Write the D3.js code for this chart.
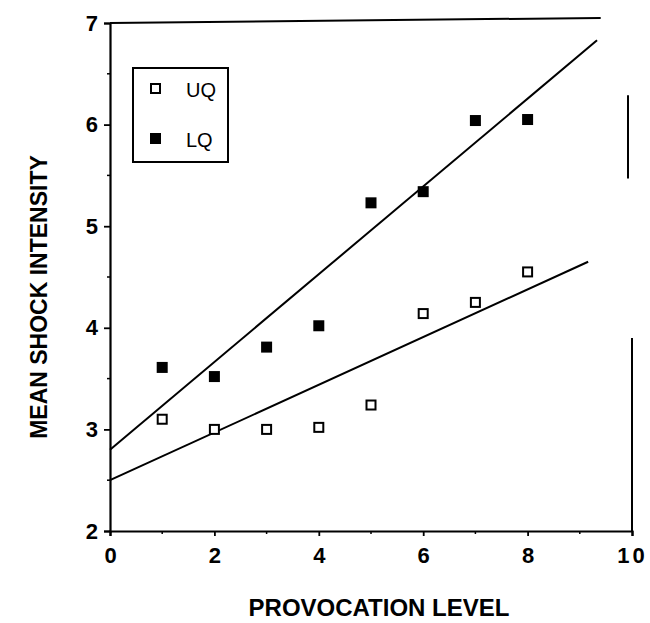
<!DOCTYPE html>
<html>
<head>
<meta charset="utf-8">
<script src="https://cdn.jsdelivr.net/npm/d3@7"></script>
<style>
  body { margin: 0; background: #fff; }
  text { font-family: "Liberation Sans", Arial, sans-serif; fill: #000; }
</style>
</head>
<body>
<script>
// provocation levels 1..8
var levels = [1, 2, 3, 4, 5, 6, 7, 8];
// mean shock intensity
var uqValues = [3.1, 3.0, 3.0, 3.02, 3.24, 4.14, 4.25, 4.55];
var lqValues = [3.61, 3.52, 3.81, 4.02, 5.23, 5.34, 6.04, 6.05];
// fitted lines, end points as drawn
var uqFit = [[0, 2.5], [9.16, 4.65]];
var lqFit = [[0, 2.8], [9.33, 6.83]];
var xTicks = [0, 2, 4, 6, 8, 10];
var yTicks = [2, 3, 4, 5, 6, 7];

var w = 650, h = 623;

var svg = d3.select("body").append("svg")
    .attr("width", w)
    .attr("height", h);

var x = d3.scaleLinear().domain([0, 10]).range([110, 632]);
var y = d3.scaleLinear().domain([2, 7]).range([531, 23]);

// bottom axis
var xAxis = d3.axisBottom(x)
    .tickValues(xTicks)
    .tickSize(5)
    .tickPadding(11)
    .tickFormat(d3.format("d"));
var gx = svg.append("g")
    .attr("transform", "translate(0," + y(2) + ")")
    .call(xAxis);
gx.select(".domain").attr("stroke-width", 2.2);
gx.selectAll(".tick line").attr("stroke-width", 1.8);
gx.selectAll(".tick text")
    .style("font-size", "22px")
    .style("font-weight", "bold")
    .attr("letter-spacing", function(d) { return d == 10 ? "3px" : null; });

// minor x ticks
svg.append("g").selectAll("line")
    .data(d3.range(1, 10, 2))
    .enter().append("line")
    .attr("x1", function(d) { return x(d); })
    .attr("x2", function(d) { return x(d); })
    .attr("y1", y(2))
    .attr("y2", y(2) + 3)
    .attr("stroke", "#000")
    .attr("stroke-width", 1.5);

// left axis
var yAxis = d3.axisLeft(y)
    .tickValues(yTicks)
    .tickSize(6)
    .tickPadding(6)
    .tickFormat(d3.format("d"));
var gy = svg.append("g")
    .attr("transform", "translate(" + x(0) + ",0)")
    .call(yAxis);
gy.select(".domain").attr("stroke-width", 2.2);
gy.selectAll(".tick line").attr("stroke-width", 1.8);
gy.selectAll(".tick text")
    .style("font-size", "22px")
    .style("font-weight", "bold");

// minor y ticks
svg.append("g").selectAll("line")
    .data(d3.range(2.5, 7, 1))
    .enter().append("line")
    .attr("x1", x(0))
    .attr("x2", x(0) - 3)
    .attr("y1", function(d) { return y(d); })
    .attr("y2", function(d) { return y(d); })
    .attr("stroke", "#000")
    .attr("stroke-width", 1.5);

// top frame line (stops short of the right edge, like the scan)
svg.append("line")
    .attr("x1", x(0)).attr("x2", x(9.4))
    .attr("y1", y(7)).attr("y2", y(7.05))
    .attr("stroke", "#000")
    .attr("stroke-width", 2);

// broken right frame pieces
var rightPieces = [[5.47, 6.29], [2, 3.9]];
svg.append("g").selectAll("line")
    .data(rightPieces)
    .enter().append("line")
    .attr("x1", function(d, i) { return x(10) - (i == 0 ? 4 : 0); })
    .attr("x2", function(d, i) { return x(10) - (i == 0 ? 4 : 0); })
    .attr("y1", function(d) { return y(d[0]); })
    .attr("y2", function(d) { return y(d[1]); })
    .attr("stroke", "#000")
    .attr("stroke-width", 2);

// fit lines
var line = d3.line()
    .x(function(d) { return x(d[0]); })
    .y(function(d) { return y(d[1]); });
[uqFit, lqFit].forEach(function(f) {
    svg.append("path")
        .attr("d", line(f))
        .attr("fill", "none")
        .attr("stroke", "#000")
        .attr("stroke-width", 2);
});

// points
var uq = levels.map(function(l, i) { return [l, uqValues[i]]; });
var lq = levels.map(function(l, i) { return [l, lqValues[i]]; });

svg.append("g").selectAll("rect")
    .data(uq)
    .enter().append("rect")
    .attr("x", function(d) { return x(d[0]) - 4.5; })
    .attr("y", function(d) { return y(d[1]) - 4.5; })
    .attr("width", 9)
    .attr("height", 9)
    .attr("fill", "#fff")
    .attr("stroke", "#000")
    .attr("stroke-width", 2);

svg.append("g").selectAll("rect")
    .data(lq)
    .enter().append("rect")
    .attr("x", function(d) { return x(d[0]) - 5.5; })
    .attr("y", function(d) { return y(d[1]) - 5.5; })
    .attr("width", 11)
    .attr("height", 11)
    .attr("fill", "#000");

// legend
var legend = svg.append("g").attr("transform", "translate(133,68)");
legend.append("rect")
    .attr("width", 95)
    .attr("height", 94)
    .attr("fill", "none")
    .attr("stroke", "#000")
    .attr("stroke-width", 2);
legend.append("rect")
    .attr("x", 18).attr("y", 16).attr("width", 9).attr("height", 9)
    .attr("fill", "#fff").attr("stroke", "#000").attr("stroke-width", 2);
legend.append("rect")
    .attr("x", 17).attr("y", 65).attr("width", 11).attr("height", 11)
    .attr("fill", "#000");
legend.append("text").attr("x", 53).attr("y", 29)
    .style("font-size", "20px").text("UQ");
legend.append("text").attr("x", 53).attr("y", 79)
    .style("font-size", "20px").text("LQ");

// axis titles
svg.append("text")
    .attr("x", 379)
    .attr("y", 616)
    .attr("text-anchor", "middle")
    .style("font-size", "24px")
    .style("font-weight", "bold")
    .text("PROVOCATION LEVEL");

svg.append("text")
    .attr("transform", "translate(47,297) rotate(-90)")
    .attr("text-anchor", "middle")
    .style("font-size", "23px")
    .style("font-weight", "bold")
    .text("MEAN SHOCK INTENSITY");
</script>
</body>
</html>
